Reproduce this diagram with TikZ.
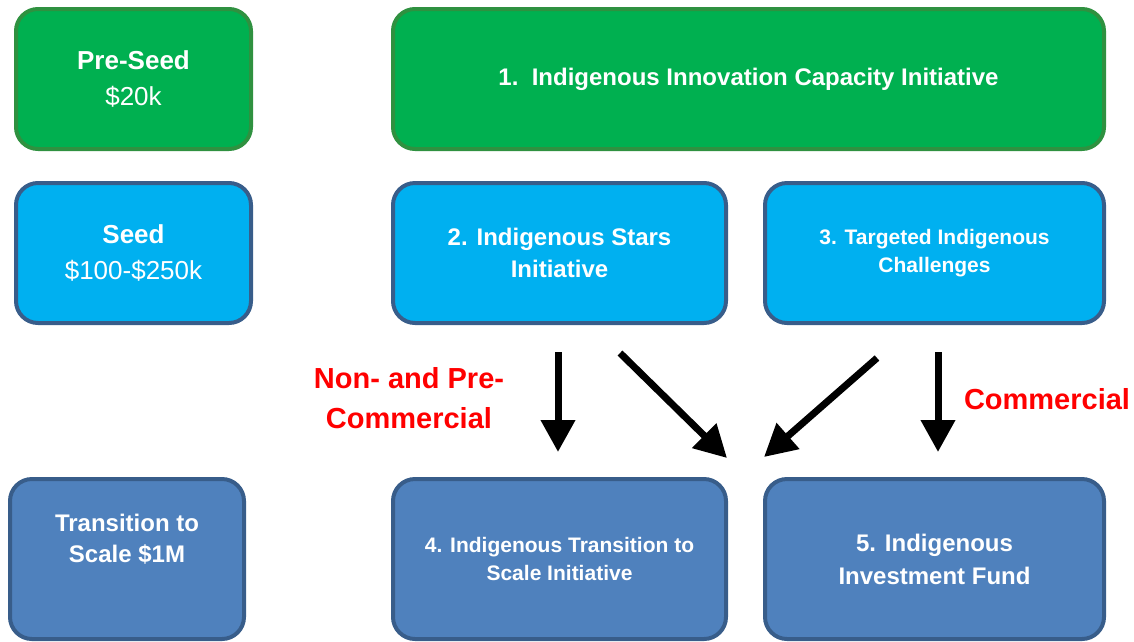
\documentclass[tikz,border=0pt]{standalone}
\usepackage{fontspec}
\setmainfont{Liberation Sans}
\usepackage{tikz}
\usetikzlibrary{arrows.meta,positioning,calc}

\definecolor{stagegreen}{RGB}{0,176,80}
\definecolor{stagegreenline}{RGB}{47,145,64}
\definecolor{stagecyan}{RGB}{0,176,240}
\definecolor{stageblue}{RGB}{79,129,189}
\definecolor{stageline}{RGB}{56,93,138}
\definecolor{flowred}{RGB}{255,0,0}

\tikzset{
  box/.style={rectangle, rounded corners=22pt, line width=4pt, text=white, align=center, inner sep=0pt},
  greenbox/.style={box, fill=stagegreen, draw=stagegreenline},
  cyanbox/.style={box, fill=stagecyan, draw=stageline},
  bluebox/.style={box, fill=stageblue, draw=stageline},
  flow/.style={line width=7pt, -{Triangle[width=33pt,length=32pt]}},
  flowlabel/.style={text=flowred, align=center, font=\bfseries\fontsize{29}{40}\selectfont}
}

\begin{document}
\begin{tikzpicture}[x=1pt, y=-1pt]
		\useasboundingbox (0,0) rectangle (1134,641);
		\node at (133.5,79) [greenbox, minimum width=235pt, minimum height=140pt, font=\fontsize{26}{36}\selectfont] (preseed) {\textbf{Pre-Seed}\\\$20k};
		\node at (748.5,79) [greenbox, minimum width=711pt, minimum height=140pt, font=\bfseries\fontsize{24}{32}\selectfont] (capacity) {1.\ \ Indigenous Innovation Capacity Initiative};
		\node at (133.5,253) [cyanbox, minimum width=235pt, minimum height=140pt, font=\fontsize{26}{36}\selectfont] (seed) {\textbf{Seed}\\\$100-\$250k};
		\node at (559.5,253) [cyanbox, minimum width=333pt, minimum height=140pt, font=\bfseries\fontsize{24}{32}\selectfont] (stars) {2. Indigenous Stars\\Initiative};
		\node at (934.5,253) [cyanbox, minimum width=339pt, minimum height=140pt, font=\bfseries\fontsize{21}{28}\selectfont] (challenges) {3. Targeted Indigenous\\Challenges};
		\node at (127,559) [bluebox, minimum width=234pt, minimum height=160pt] (scale) {};
		\node at (scale.north) [anchor=north, yshift=-34pt, text=white, align=center, font=\bfseries\fontsize{24}{31}\selectfont] (scaletext) {Transition to\\Scale \$1M};
		\node at (559.5,559) [bluebox, minimum width=333pt, minimum height=160pt, font=\bfseries\fontsize{21}{28}\selectfont] (transition) {4. Indigenous Transition to\\Scale Initiative};
		\node at (934.5,559) [bluebox, minimum width=339pt, minimum height=160pt, font=\bfseries\fontsize{24}{33}\selectfont] (fund) {5. Indigenous\\Investment Fund};
		\node at (409,398) [flowlabel] (precommercial) {Non- and Pre-\\Commercial};
		\node at (1047,399) [flowlabel] (commercial) {Commercial};
		\coordinate (s1) at (558,352);
		\coordinate (e1) at (558,452);
		\coordinate (s2) at (620,353);
		\coordinate (e2) at (727,458);
		\coordinate (s3) at (877,358);
		\coordinate (e3) at (764,457);
		\coordinate (s4) at (938,352);
		\coordinate (e4) at (938,452);
		\draw [flow] (s1) -- (e1);
		\draw [flow] (s2) -- (e2);
		\draw [flow] (s3) -- (e3);
		\draw [flow] (s4) -- (e4);
		\end{tikzpicture}
\end{document}
